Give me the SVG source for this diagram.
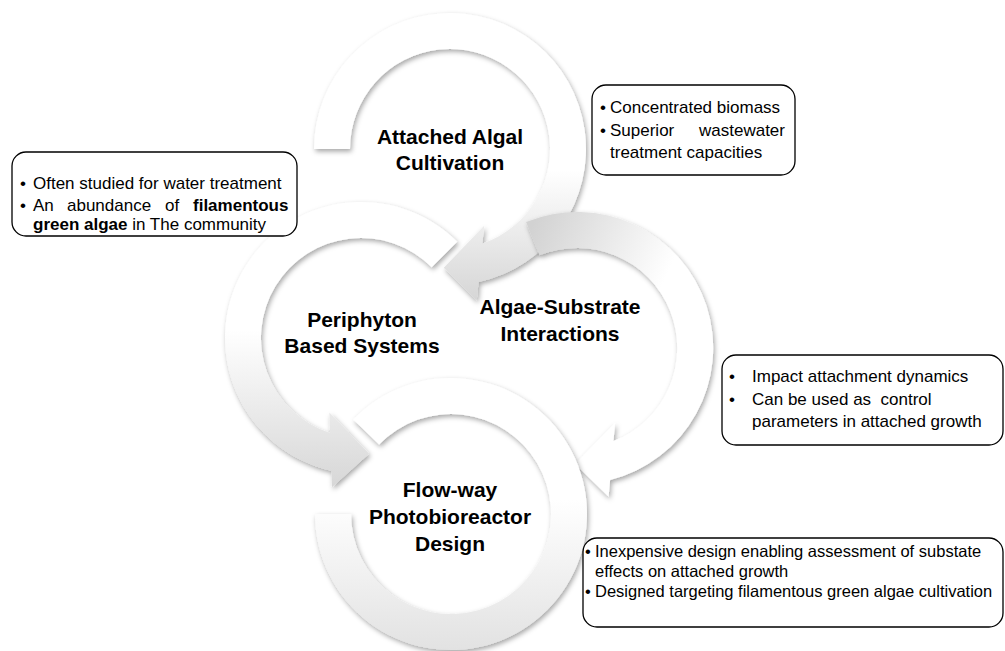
<svg xmlns="http://www.w3.org/2000/svg" width="1005" height="651" viewBox="0 0 1005 651">
<style>
.ring{filter:url(#sh)}
.box{fill:#fff;stroke:#000;stroke-width:1.3}
.h{font-family:"Liberation Sans",Arial,sans-serif;font-weight:bold;font-size:21px;fill:#000;text-anchor:middle}
.t{font-family:"Liberation Sans",Arial,sans-serif;font-size:17px;fill:#000;white-space:pre}
.s{font-size:16.5px}
.b{font-weight:bold}
</style>
<defs>
<filter id="sh" x="-20%" y="-20%" width="140%" height="140%">
<feDropShadow dx="1.5" dy="2.5" stdDeviation="2.5" flood-color="#000" flood-opacity="0.35"/>
</filter>
<linearGradient id="g1" gradientUnits="userSpaceOnUse" x1="0" y1="170" x2="0" y2="300">
<stop offset="0" stop-color="#fff"/><stop offset="1" stop-color="#d6d6d6"/>
</linearGradient>
<linearGradient id="g2" gradientUnits="userSpaceOnUse" x1="0" y1="330" x2="0" y2="490">
<stop offset="0" stop-color="#fff"/><stop offset="1" stop-color="#d6d6d6"/>
</linearGradient>
<linearGradient id="g3" gradientUnits="userSpaceOnUse" x1="530" y1="230" x2="660" y2="290">
<stop offset="0" stop-color="#d2d2d2"/><stop offset="1" stop-color="#fff"/>
</linearGradient>
<linearGradient id="g4" gradientUnits="userSpaceOnUse" x1="0" y1="500" x2="0" y2="650">
<stop offset="0" stop-color="#fff"/><stop offset="1" stop-color="#e2e2e2"/>
</linearGradient>
</defs>
<rect width="1005" height="651" fill="#fff"/>
<g id="connectors">
<path id="arrow-attached" class="ring" fill="url(#g1)" d="M 314 149 A 136 136 0 1 1 478.6 282 L 476.7 300.7 L 443.8 267.8 L 484.2 225.7 L 482.4 243.6 A 100 100 0 1 0 350 149 Z"/>
<path id="arrow-periphyton" class="ring" fill="url(#g2)" d="M 457.2 241.8 A 136 136 0 1 0 331.4 470.7 L 332 487.2 L 369.1 453.7 L 329.4 412.6 L 330.1 433.1 A 100 100 0 1 1 431.7 267.3 Z"/>
<path id="arrow-substrate" class="ring" fill="url(#g3)" d="M 526.1 221.9 A 136 136 0 1 1 610.1 479.9 L 608.6 496.7 L 575 464 L 615.1 422.8 L 613.5 441.1 A 100 100 0 1 0 539.5 255.3 Z"/>
<path id="arrow-flowway" class="ring" fill="url(#g4)" d="M 353.2 419.5 A 136 136 0 1 1 315 514 L 351 514 A 100 100 0 1 0 379.1 444.5 Z"/>
</g>
<g id="node-attached">
<text class="h" x="450" y="144">Attached Algal</text>
<text class="h" x="450" y="170">Cultivation</text>
</g>
<g id="node-periphyton">
<text class="h" x="362" y="327">Periphyton</text>
<text class="h" x="362" y="353">Based Systems</text>
</g>
<g id="node-substrate">
<text class="h" x="560" y="314">Algae-Substrate</text>
<text class="h" x="560" y="341">Interactions</text>
</g>
<g id="node-flowway">
<text class="h" x="450" y="497">Flow-way</text>
<text class="h" x="450" y="524">Photobioreactor</text>
<text class="h" x="450" y="551">Design</text>
</g>
<g id="note-periphyton">
<rect class="box" x="12" y="152" width="285" height="84" rx="14"/>
<text class="t" x="20" y="189">•</text>
<text class="t" x="33" y="189">Often studied for water treatment</text>
<text class="t" x="20" y="211">•</text>
<text class="t" y="211"><tspan x="33">An</tspan><tspan x="67">abundance</tspan><tspan x="165">of</tspan><tspan class="b" x="193">filamentous</tspan></text>
<text class="t" x="33" y="230"><tspan class="b">green algae</tspan> in The community</text>
</g>
<g id="note-attached">
<rect class="box" x="592" y="85" width="203" height="90" rx="14"/>
<text class="t" x="600" y="113">•</text>
<text class="t" x="610" y="113">Concentrated biomass</text>
<text class="t" x="600" y="136">•</text>
<text class="t" y="136"><tspan x="610">Superior</tspan><tspan x="699">wastewater</tspan></text>
<text class="t" x="610" y="158">treatment capacities</text>
</g>
<g id="note-substrate">
<rect class="box" x="722" y="355" width="281" height="90" rx="14"/>
<text class="t" x="729" y="382">•</text>
<text class="t" x="752" y="382">Impact attachment dynamics</text>
<text class="t" x="729" y="405">•</text>
<text class="t" x="752" y="405">Can be used as  control</text>
<text class="t" x="752" y="427">parameters in attached growth</text>
</g>
<g id="note-flowway">
<rect class="box" x="583" y="538" width="420" height="89" rx="14"/>
<text class="t s" x="585" y="557">•</text>
<text class="t s" x="595" y="557">Inexpensive design enabling assessment of substate</text>
<text class="t s" x="595" y="577">effects on attached growth</text>
<text class="t s" x="585" y="597">•</text>
<text class="t s" x="595" y="597">Designed targeting filamentous green algae cultivation</text>
</g>
</svg>
